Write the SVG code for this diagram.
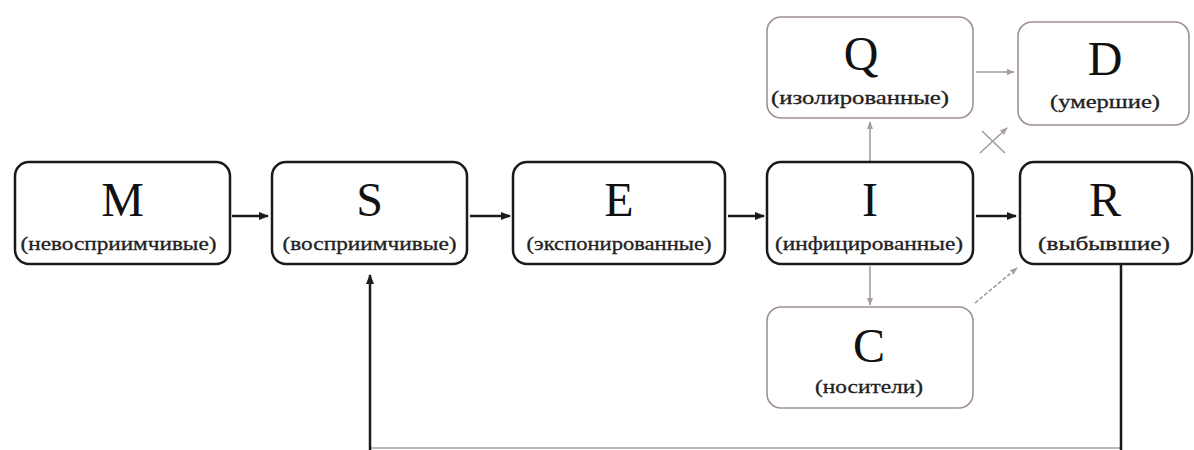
<svg xmlns="http://www.w3.org/2000/svg" width="1194" height="450" viewBox="0 0 1194 450">
<style>
.main{fill:#fff;stroke:#1a1a1a;stroke-width:2.5}
.sec{fill:#fff;stroke:#a09090;stroke-width:1.6}
.big{font-family:"Liberation Serif","DejaVu Serif",serif;font-size:48px;fill:#111;text-anchor:middle}
.sub{font-family:"Liberation Serif","DejaVu Serif",serif;font-size:19px;fill:#222;stroke:#222;stroke-width:0.3;text-anchor:middle}
.c{stroke:#1a1a1a;stroke-width:2.5;fill:none}
.g{stroke:#a89c9c;stroke-width:1.6;fill:none}
</style>
<defs>
<marker id="ab" markerUnits="userSpaceOnUse" markerWidth="10" markerHeight="10" refX="9" refY="5" orient="auto"><path d="M0,1 L10,5 L0,9 Z" fill="#1a1a1a"/></marker>
<marker id="ag" markerUnits="userSpaceOnUse" markerWidth="8" markerHeight="8" refX="7" refY="4" orient="auto"><path d="M0,1 L8,4 L0,7 Z" fill="#a89c9c"/></marker>
</defs>
<rect width="1194" height="450" fill="#fff"/>
<g id="connectors">
<line class="c" x1="232" y1="216" x2="268" y2="216" marker-end="url(#ab)"/>
<line class="c" x1="470" y1="216" x2="510" y2="216" marker-end="url(#ab)"/>
<line class="c" x1="728" y1="216" x2="764" y2="216" marker-end="url(#ab)"/>
<line class="c" x1="976" y1="216" x2="1016" y2="216" marker-end="url(#ab)"/>
<line class="g" x1="870" y1="162" x2="870" y2="122" marker-end="url(#ag)"/>
<line class="g" x1="870" y1="266" x2="870" y2="305" marker-end="url(#ag)"/>
<line class="g" x1="976" y1="72" x2="1014" y2="72" marker-end="url(#ag)"/>
<line class="g" x1="975" y1="303" x2="1017" y2="268" stroke-dasharray="4,2" marker-end="url(#ag)"/>
<line class="g" x1="980" y1="153" x2="1007" y2="128" marker-end="url(#ag)"/>
<line class="g" x1="982" y1="131" x2="1005" y2="153"/>
<line class="g" x1="370" y1="448" x2="1121" y2="448"/>
<polyline class="c" points="1121,265 1121,450"/>
<line class="c" x1="370" y1="450" x2="370" y2="275" marker-end="url(#ab)"/>
</g>
<g id="node-M"><rect class="main" x="15" y="162" width="215" height="102" rx="14"/><text class="big" x="122.5" y="216">M</text><text class="sub" x="118.5" y="250" textLength="196" lengthAdjust="spacingAndGlyphs">(невосприимчивые)</text></g>
<g id="node-S"><rect class="main" x="272" y="162" width="195" height="102" rx="14"/><text class="big" x="369.5" y="216">S</text><text class="sub" x="369.5" y="250" textLength="174" lengthAdjust="spacingAndGlyphs">(восприимчивые)</text></g>
<g id="node-E"><rect class="main" x="513" y="162" width="212" height="102" rx="14"/><text class="big" x="619" y="216">E</text><text class="sub" x="619" y="250" textLength="185" lengthAdjust="spacingAndGlyphs">(экспонированные)</text></g>
<g id="node-I"><rect class="main" x="767" y="162" width="206" height="102" rx="14"/><text class="big" x="870" y="216">I</text><text class="sub" x="869" y="250" textLength="188" lengthAdjust="spacingAndGlyphs">(инфицированные)</text></g>
<g id="node-R"><rect class="main" x="1020" y="162" width="172" height="102" rx="14"/><text class="big" x="1105" y="216">R</text><text class="sub" x="1104" y="250" textLength="132" lengthAdjust="spacingAndGlyphs">(выбывшие)</text></g>
<g id="node-Q"><rect class="sec" x="767" y="17" width="206" height="101" rx="14"/><text class="big" x="861" y="70">Q</text><text class="sub" x="860" y="104" textLength="178" lengthAdjust="spacingAndGlyphs">(изолированные)</text></g>
<g id="node-D"><rect class="sec" x="1018" y="22" width="171" height="103" rx="14"/><text class="big" x="1105" y="75">D</text><text class="sub" x="1105" y="108" textLength="110" lengthAdjust="spacingAndGlyphs">(умершие)</text></g>
<g id="node-C"><rect class="sec" x="767" y="307" width="206" height="101" rx="14"/><text class="big" x="869" y="362">C</text><text class="sub" x="869" y="393" textLength="108" lengthAdjust="spacingAndGlyphs">(носители)</text></g>
</svg>
